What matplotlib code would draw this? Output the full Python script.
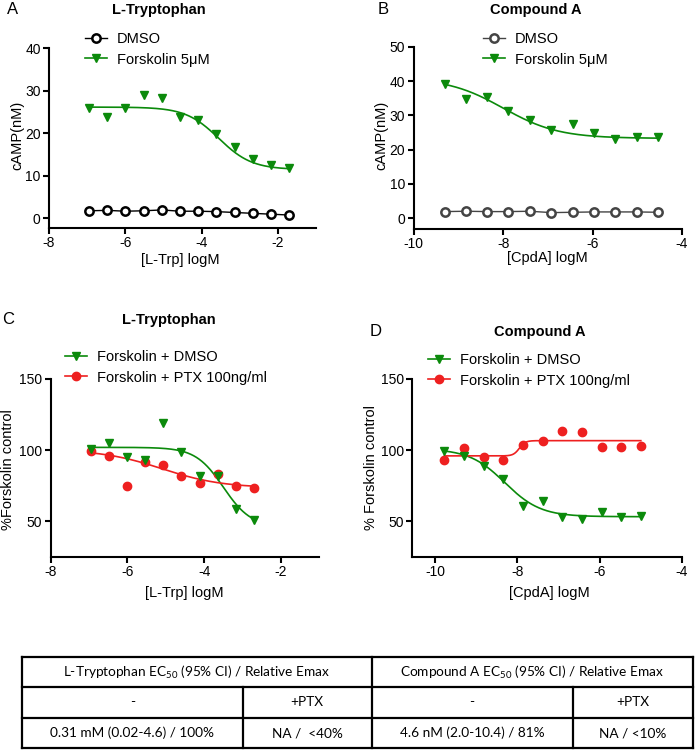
import numpy as np
import matplotlib
matplotlib.use("Agg")
import matplotlib.pyplot as plt

plt.rcParams['font.family'] = ['Liberation Sans', 'DejaVu Sans']
plt.rcParams['axes.unicode_minus'] = False
plt.rcParams['mathtext.fontset'] = 'custom'
plt.rcParams['mathtext.rm'] = 'Lato'

GREEN = '#0b8a0b'
RED = '#ee2020'

# ---- panel A: L-Tryptophan, cAMP (nM)
a_x = [-6.95, -6.47, -6.0, -5.52, -5.04, -4.57, -4.09, -3.61, -3.13, -2.66, -2.18, -1.70]
a_dmso = [1.7, 1.8, 1.6, 1.7, 1.9, 1.6, 1.6, 1.5, 1.3, 1.1, 0.9, 0.7]
a_fsk = [25.9, 23.7, 25.9, 28.9, 28.2, 23.7, 23.0, 19.8, 16.6, 13.8, 12.4, 11.8]
a_fit = [26.1, 11.4, -3.55, 1.0]   # top, bottom, logIC50, hill

# ---- panel B: Compound A, cAMP (nM)
b_x = [-9.31, -8.83, -8.36, -7.88, -7.40, -6.92, -6.44, -5.96, -5.49, -5.01, -4.53]
b_dmso = [1.9, 2.0, 1.9, 1.9, 2.0, 1.6, 1.7, 1.8, 1.8, 1.8, 1.7]
b_fsk = [39.2, 34.8, 35.4, 31.4, 28.7, 25.7, 27.4, 25.0, 23.1, 23.8, 23.8]
b_fit = [41.0, 23.3, -8.0, 0.7]

# ---- panel C: L-Tryptophan, % forskolin control
c_x = [-6.96, -6.49, -6.02, -5.54, -5.08, -4.60, -4.12, -3.65, -3.16, -2.69]
c_dmso = [101.1, 105.3, 95.5, 93.2, 119.1, 99.0, 82.2, 82.0, 58.9, 50.7]
c_ptx = [99.7, 96.2, 75.0, 91.8, 89.9, 82.2, 77.1, 83.5, 75.0, 73.8]
c_fit_dmso = [102.0, 46.0, -3.5, 1.2]
c_fit_ptx = [100.5, 73.5, -5.1, 0.55]

# ---- panel D: Compound A, % forskolin control
d_x = [-9.77, -9.29, -8.81, -8.34, -7.86, -7.38, -6.91, -6.43, -5.95, -5.47, -5.00]
d_dmso = [99.5, 95.8, 88.8, 79.8, 61.0, 64.6, 53.3, 51.4, 56.6, 53.1, 53.5]
d_ptx = [93.0, 101.6, 95.1, 93.0, 103.7, 106.3, 113.5, 112.6, 102.1, 102.4, 102.6]
d_fit_dmso = [101.0, 53.3, -8.3, 1.0]
d_fit_ptx = [96.0, 106.7, -7.95, 6.0]

# ---- table
tbl_head = ['L-Tryptophan EC$_{50}$ (95% CI) / Relative Emax',
            'Compound A EC$_{50}$ (95% CI) / Relative Emax']
tbl_sub = ['-', '+PTX', '-', '+PTX']
tbl_vals = ['0.31 mM (0.02-4.6) / 100%', 'NA /  <40%', '4.6 nM (2.0-10.4) / 81%', 'NA / <10%']

W, H = 696, 751
fig = plt.figure(figsize=(W / 100, H / 100), dpi=100)


def add_ax(left, top, right, bottom):
    return fig.add_axes([left / W, 1 - bottom / H, (right - left) / W, (bottom - top) / H])


def style(ax, xlim, ylim, xticks, yticks):
    for s in ['top', 'right']:
        ax.spines[s].set_visible(False)
    for s in ['left', 'bottom']:
        ax.spines[s].set_linewidth(1.5)
    ax.set_xlim(xlim)
    ax.set_ylim(ylim)
    ax.set_xticks(xticks)
    ax.set_yticks(yticks)
    ax.tick_params(width=1.5, length=4, labelsize=10, pad=2, colors='black')
    ax.patch.set_alpha(0)


def curve(x, p):
    xs = np.linspace(min(x), max(x), 300)
    top, bot, lc, h = p
    return xs, bot + (top - bot) / (1 + 10 ** (h * (xs - lc)))


def legend(ax, px, py):
    ax.legend(loc='upper left', bbox_to_anchor=(px / W, 1 - py / H),
              bbox_transform=fig.transFigure, frameon=False, fontsize=10.5,
              handlelength=1.5, handletextpad=0.7, labelspacing=0.45,
              borderpad=0, borderaxespad=0, numpoints=1)


tri = dict(marker='v', ms=6, color=GREEN, mec=GREEN)
dot = dict(marker='o', ms=6, color=RED, mec=RED)

# A
ax = add_ax(49, 48, 316, 228)
ax.plot(a_x, a_dmso, '-', color='black', lw=1.0, marker='o', ms=6, mfc='white', mec='black', mew=1.8,
        label='DMSO', zorder=3)
xs, ys = curve(a_x, a_fit)
ax.plot(xs, ys, color=GREEN, lw=1.2)
ax.plot(a_x, a_fsk, ls='none', **tri)
ax.plot([], [], '-', lw=1.2, label='Forskolin 5μM', **tri)
style(ax, (-8, -1), (-2.35, 40), [-8, -6, -4, -2], [0, 10, 20, 30, 40])
legend(ax, 85, 32)

# B
ax = add_ax(413.7, 47, 682, 228.7)
ax.plot(b_x, b_dmso, '-', color='#444444', lw=1.0, marker='o', ms=6, mfc='white', mec='#444444', mew=1.8,
        label='DMSO', zorder=3)
xs, ys = curve(b_x, b_fit)
ax.plot(xs, ys, color=GREEN, lw=1.2)
ax.plot(b_x, b_fsk, ls='none', **tri)
ax.plot([], [], '-', lw=1.2, label='Forskolin 5μM', **tri)
style(ax, (-10, -4), (-3.1, 50), [-10, -8, -6, -4], [0, 10, 20, 30, 40, 50])
legend(ax, 483, 32)

# C
ax = add_ax(50.7, 379, 319.3, 557)
xs, ys = curve(c_x, c_fit_dmso)
ax.plot(xs, ys, color=GREEN, lw=1.2)
xs, ys = curve(c_x, c_fit_ptx)
ax.plot(xs, ys, color=RED, lw=1.2)
ax.plot(c_x, c_ptx, ls='none', **dot)
ax.plot(c_x, c_dmso, ls='none', **tri)
ax.plot([], [], '-', lw=1.2, label='Forskolin + DMSO', **tri)
ax.plot([], [], '-', lw=1.2, label='Forskolin + PTX 100ng/ml', **dot)
style(ax, (-8, -1), (25, 150), [-8, -6, -4, -2], [50, 100, 150])
legend(ax, 65, 350)

# D
ax = add_ax(412.3, 379, 682, 557)
xs, ys = curve(d_x, d_fit_dmso)
ax.plot(xs, ys, color=GREEN, lw=1.2)
xs, ys = curve(d_x, d_fit_ptx)
ax.plot(xs, ys, color=RED, lw=1.2)
ax.plot(d_x, d_ptx, ls='none', **dot)
ax.plot(d_x, d_dmso, ls='none', **tri)
ax.plot([], [], '-', lw=1.2, label='Forskolin + DMSO', **tri)
ax.plot([], [], '-', lw=1.2, label='Forskolin + PTX 100ng/ml', **dot)
style(ax, (-10.55, -4), (25, 150), [-10, -8, -6, -4], [50, 100, 150])
legend(ax, 428, 353)

# overlay in pixel coordinates for labels and table
ov = fig.add_axes([0, 0, 1, 1])
ov.set_xlim(0, W)
ov.set_ylim(H, 0)
ov.axis('off')
ov.patch.set_alpha(0)

for letter, lx, ly in [('A', 13, 10), ('B', 383, 10), ('C', 8, 320), ('D', 376, 332)]:
    ov.text(lx, ly, letter, fontsize=12, ha='center', va='center')
for t, tx, ty in [('L-Tryptophan', 159, 10), ('Compound A', 536, 10),
                  ('L-Tryptophan', 169, 320), ('Compound A', 540, 332)]:
    ov.text(tx, ty, t, fontsize=10.5, fontweight='bold', ha='center', va='center')
for t, tx, ty in [('cAMP(nM)', 17, 135), ('cAMP(nM)', 381, 135),
                  ('%Forskolin control', 8, 470), ('% Forskolin control', 371, 468)]:
    ov.text(tx, ty, t, fontsize=10.5, rotation=90, ha='center', va='center')
for t, tx, ty in [('[L-Trp] logM', 180, 260), ('[CpdA] logM', 547, 258),
                  ('[L-Trp] logM', 184, 593), ('[CpdA] logM', 549, 593)]:
    ov.text(tx, ty, t, fontsize=10.5, ha='center', va='center')

# table grid
tl, tr = 22, 693
rows = [657, 687, 718, 748]
lw = 1.6
for y in rows:
    ov.plot([tl, tr], [y, y], color='black', lw=lw, solid_capstyle='projecting')
for x in [tl, 372, tr]:
    ov.plot([x, x], [rows[0], rows[-1]], color='black', lw=lw, solid_capstyle='projecting')
for x in [243, 573]:
    ov.plot([x, x], [rows[1], rows[-1]], color='black', lw=lw, solid_capstyle='projecting')

tfont = dict(family=['Lato', 'DejaVu Sans'], fontsize=9.8, ha='center', va='center')
ov.text(197, 672, tbl_head[0], **tfont)
ov.text(532, 672, tbl_head[1], **tfont)
for cx, s, v in zip([132.5, 307, 472, 633], tbl_sub, tbl_vals):
    ov.text(cx, 702.5, s, **tfont)
    ov.text(cx, 733, v, **tfont)

fig.savefig('out.png', dpi=100)
